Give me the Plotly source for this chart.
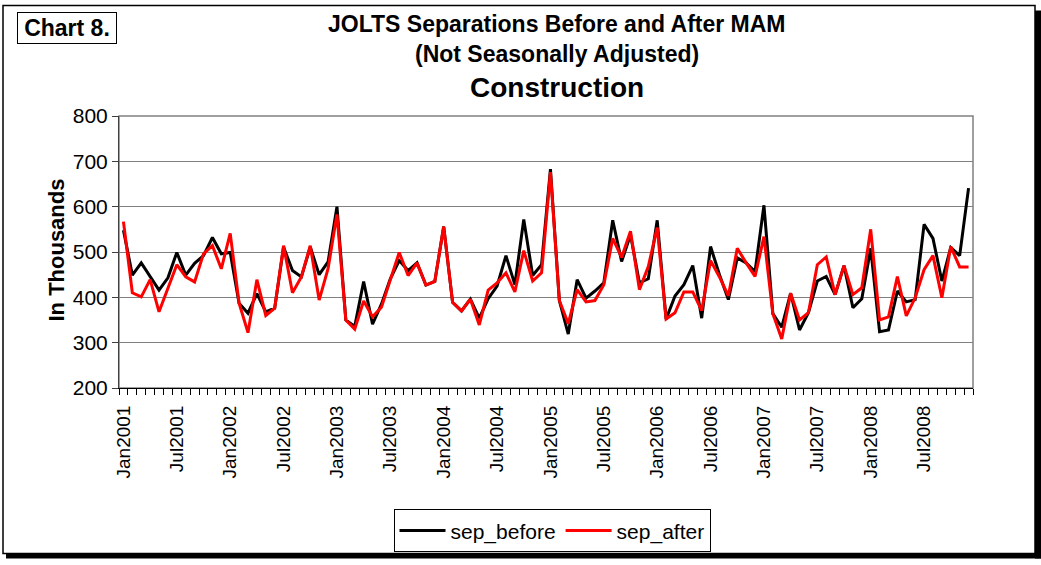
import plotly.graph_objects as go

# monthly index Jan2001 .. Dec2008
months = list(range(96))
tick_pos = list(range(0, 96, 6))
tick_labels = ["Jan2001", "Jul2001", "Jan2002", "Jul2002", "Jan2003", "Jul2003",
               "Jan2004", "Jul2004", "Jan2005", "Jul2005", "Jan2006", "Jul2006",
               "Jan2007", "Jul2007", "Jan2008", "Jul2008"]

sep_before = [548, 449, 476, 445, 416, 443, 499, 449, 475, 492, 532, 496,
              499, 387, 365, 408, 368, 376, 511, 459, 445, 511, 450, 478,
              600, 350, 336, 435, 341, 385, 441, 481, 459, 476, 427, 435,
              556, 389, 370, 396, 354, 397, 425, 492, 428, 572, 448, 472,
              683, 393, 319, 439, 398, 414, 432, 570, 479, 538, 432, 441,
              570, 352, 403, 428, 470, 354, 512, 450, 395, 487, 476, 457,
              603, 364, 334, 409, 328, 366, 436, 446, 406, 470, 377, 397,
              508, 324, 328, 414, 390, 395, 561, 530, 436, 510, 492, 641]

sep_after = [567, 410, 401, 439, 368, 419, 472, 445, 434, 496, 514, 463,
             541, 387, 322, 439, 360, 376, 514, 410, 445, 514, 394, 463,
             583, 350, 330, 392, 357, 378, 441, 499, 448, 476, 427, 435,
             556, 389, 370, 396, 339, 416, 432, 454, 412, 503, 436, 454,
             676, 393, 342, 417, 390, 393, 428, 530, 488, 546, 417, 468,
             554, 352, 366, 412, 412, 371, 481, 445, 403, 508, 476, 446,
             534, 364, 308, 409, 350, 366, 472, 489, 406, 470, 406, 421,
             550, 350, 357, 446, 359, 399, 461, 492, 399, 512, 467, 467]

W, H = 1041, 565
L, R, T, B = 119, 68, 116, 173
pw, ph = W - L - R, H - T - B

def px(x):
    return (x - L) / pw

def py(y):
    return (H - B - y) / ph

FONT = "Liberation Sans, Arial, sans-serif"

fig = go.Figure()
fig.add_trace(go.Scatter(x=months, y=sep_before, mode="lines", name="sep_before",
                         line=dict(color="black", width=3)))
fig.add_trace(go.Scatter(x=months, y=sep_after, mode="lines", name="sep_after",
                         line=dict(color="#ff0000", width=3)))

fig.update_xaxes(range=[-0.5, 95.5], tickmode="array", tickvals=tick_pos,
                 ticktext=tick_labels, tickangle=-90, ticks="",
                 tickfont=dict(size=19, color="black", family=FONT),
                 ticklabelstandoff=9,
                 showgrid=False, zeroline=False,
                 showline=True, linecolor="black", linewidth=1,
                 minor=dict(ticks="outside", tick0=-0.5, dtick=1, ticklen=6,
                            tickcolor="black", tickwidth=1, showgrid=False))
fig.update_yaxes(range=[200, 800], dtick=100, ticks="outside", ticklen=6,
                 tickcolor="#404040",
                 tickfont=dict(size=21, color="black", family=FONT),
                 showgrid=True, gridcolor="#808080", gridwidth=1, zeroline=False,
                 showline=True, linecolor="#404040", linewidth=1)

shapes = [
    # plot area border
    dict(type="rect", xref="paper", yref="paper", x0=0, x1=1, y0=0, y1=1,
         line=dict(color="#808080", width=1.5), layer="below"),
    # outer frame
    dict(type="rect", xref="paper", yref="paper", x0=px(3), x1=px(1035),
         y0=py(560), y1=py(4), line=dict(color="black", width=1.5)),
    # shadow right
    dict(type="rect", xref="paper", yref="paper", x0=px(1035), x1=px(1041),
         y0=py(565), y1=py(9), fillcolor="black", line=dict(width=0)),
    # shadow bottom
    dict(type="rect", xref="paper", yref="paper", x0=px(6), x1=px(1041),
         y0=py(565), y1=py(560), fillcolor="black", line=dict(width=0)),
]

annotations = [
    dict(text="<b>Chart 8.</b>", x=px(67), y=py(27), xref="paper", yref="paper",
         showarrow=False, font=dict(size=23, color="black", family=FONT),
         bordercolor="black", borderwidth=1, borderpad=1, width=96, height=28,
         bgcolor="white", xanchor="center", yanchor="middle"),
    dict(text="<b>JOLTS Separations Before and After MAM</b>", x=px(557), y=py(23),
         xref="paper", yref="paper", showarrow=False,
         font=dict(size=23, color="black", family=FONT), yanchor="middle"),
    dict(text="<b>(Not Seasonally Adjusted)</b>", x=px(557), y=py(53),
         xref="paper", yref="paper", showarrow=False,
         font=dict(size=23, color="black", family=FONT), yanchor="middle"),
    dict(text="<b>Construction</b>", x=px(557), y=py(87),
         xref="paper", yref="paper", showarrow=False,
         font=dict(size=28, color="black", family=FONT), yanchor="middle"),
    dict(text="<b>In Thousands</b>", x=px(42), y=py(252), xref="paper", yref="paper",
         showarrow=False, textangle=-90,
         font=dict(size=22, color="black", family=FONT), yanchor="middle"),
]

fig.update_layout(
    width=W, height=H,
    margin=dict(l=L, r=R, t=T, b=B),
    paper_bgcolor="white", plot_bgcolor="white",
    font=dict(family=FONT, color="black"),
    shapes=shapes, annotations=annotations,
    legend=dict(orientation="h", x=px(552), y=py(537), xanchor="center",
                yanchor="middle", bordercolor="black", borderwidth=1,
                font=dict(size=21, color="black", family=FONT),
                bgcolor="white", itemwidth=46),
)

# page body has a default margin; drop it so the figure fills the window
fig.write_html("out.html", config={"displayModeBar": False},
               post_script="document.body.style.margin='0';"
                           "document.body.style.overflow='hidden';"
                           "document.documentElement.style.overflow='hidden';")
